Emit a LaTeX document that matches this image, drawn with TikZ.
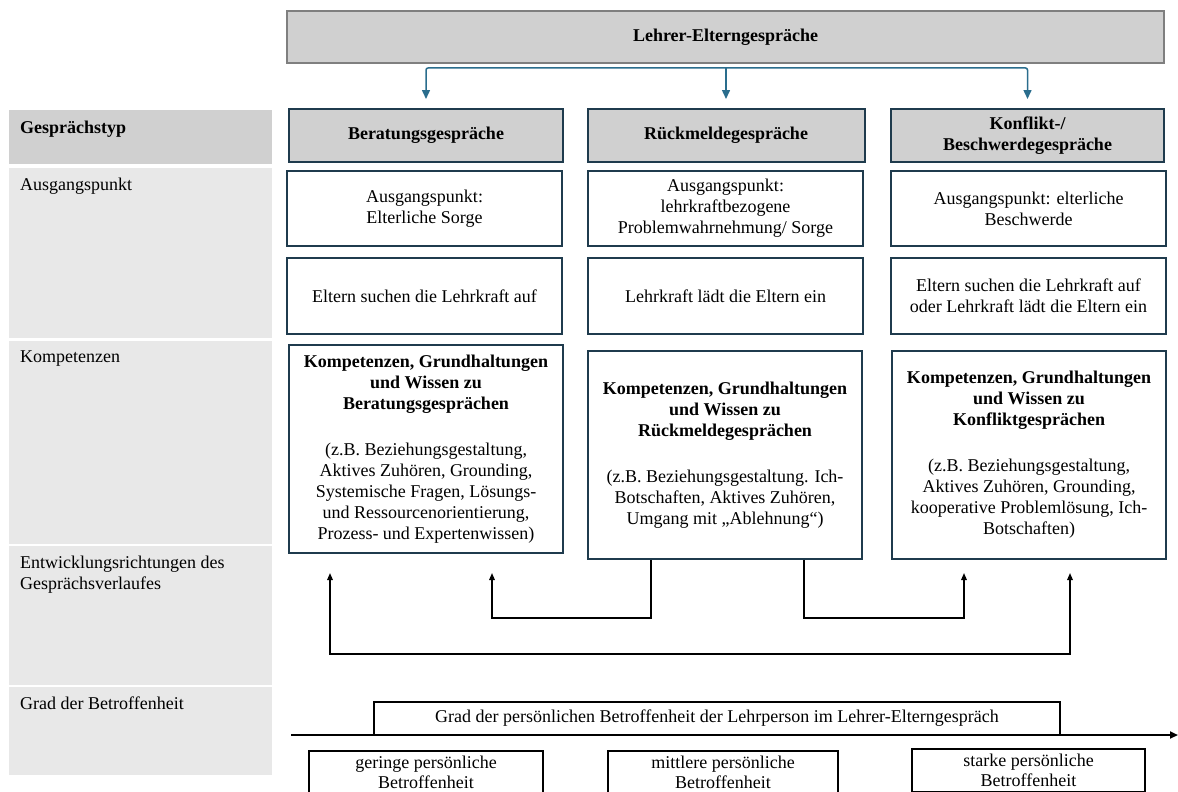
\documentclass[tikz,border=0pt]{standalone}
\usepackage{fontspec}
\setmainfont{Liberation Serif}
\usetikzlibrary{arrows.meta}
\definecolor{hdrgray}{HTML}{D0D0D0}
\definecolor{rowgray}{HTML}{E8E8E8}
\definecolor{topborder}{HTML}{7F7F7F}
\definecolor{navy}{HTML}{1F3B4D}
\definecolor{bluearrow}{HTML}{2A6D8D}
\begin{document}
\begin{tikzpicture}[x=1pt,y=-1pt,
  every node/.style={font=\fontsize{18}{21}\selectfont},
  rowfill/.style={draw=none, fill=#1, inner sep=0pt, minimum width=263pt},
  rowlabel/.style={anchor=base west, inner sep=0pt, align=left},
  boldtxt/.style={font=\fontsize{18}{21}\selectfont\bfseries},
  topbox/.style={draw=topborder, line width=2pt, fill=hdrgray, inner sep=0pt,
    minimum width=877pt, minimum height=52pt, boldtxt},
  hdrbox/.style={draw=navy, line width=2pt, fill=hdrgray, inner sep=0pt,
    minimum height=53pt, align=center, boldtxt},
  cellbox/.style={draw=navy, line width=1.5pt, fill=white, inner sep=0pt,
    minimum width=275pt, align=center},
  axisbox/.style={draw=black, line width=1.5pt, fill=white, inner sep=0pt, align=center},
  lowbox/.style={draw=black, line width=1.5pt, fill=white, inner xsep=0pt,
    inner ysep=5pt, anchor=north, align=center, font=\fontsize{18}{20}\selectfont},
  barrow/.style={draw=bluearrow, line width=1.5pt, rounded corners=2pt,
    -{Triangle[length=9pt,width=8pt]}, shorten >=9pt},
  conn/.style={draw=black, line width=1.5pt},
  tipk/.tip={Triangle[length=7pt,width=5.5pt]}
]
\useasboundingbox (0,0) rectangle (1178,792);

% left column
\node[rowfill=hdrgray, minimum height=54pt] (r1) at (140.5,137) {};
\node[rowfill=rowgray, minimum height=170pt] (r2) at (140.5,253) {};
\node[rowfill=rowgray, minimum height=203pt] (r3) at (140.5,442.5) {};
\node[rowfill=rowgray, minimum height=139pt] (r4) at (140.5,615.5) {};
\node[rowfill=rowgray, minimum height=88pt] (r5) at (140.5,731) {};

\node[rowlabel, boldtxt] (l1) at (20,133) {Gesprächstyp};
\node[rowlabel] (l2) at (20,190) {Ausgangspunkt};
\node[rowlabel] (l3) at (20,362) {Kompetenzen};
\node[rowlabel] (l4) at (20,589) {Entwicklungsrichtungen des\\Gesprächsverlaufes};
\node[rowlabel] (l5) at (20,709) {Grad der Betroffenheit};

% top
\node[topbox] (top) at (725.5,37) {Lehrer-Elterngespräche};

% headers
\node[hdrbox, minimum width=274pt] (h1) at (426,135.5) {Beratungsgespräche};
\node[hdrbox, minimum width=277pt] (h2) at (726,135.5) {Rückmeldegespräche};
\node[hdrbox, minimum width=273pt] (h3) at (1027.5,135.5) {Konflikt-/\\Beschwerdegespräche};

% blue connectors
\coordinate (bus) at (726,68);
\draw[barrow] (bus) -| (h1.north);
\draw[barrow] (bus) -| (h3.north);
\draw[barrow] (bus) -- (h2.north);

% Ausgangspunkt row
\node[cellbox, minimum height=75pt] (a1) at (424.5,208.5) {Ausgangspunkt:\\Elterliche Sorge};
\node[cellbox, minimum height=75pt] (a2) at (725.5,208.5) {Ausgangspunkt:\\lehrkraftbezogene\\Problemwahrnehmung/ Sorge};
\node[cellbox, minimum height=75pt] (a3) at (1028.5,208.5) {Ausgangspunkt: elterliche\\Beschwerde};

\node[cellbox, minimum height=76pt] (b1) at (424.5,296) {Eltern suchen die Lehrkraft auf};
\node[cellbox, minimum height=76pt] (b2) at (725.5,296) {Lehrkraft lädt die Eltern ein};
\node[cellbox, minimum height=76pt] (b3) at (1028.5,296) {Eltern suchen die Lehrkraft auf\\oder Lehrkraft lädt die Eltern ein};

% Kompetenzen
\node[cellbox, minimum width=274pt, minimum height=208pt] (k1) at (426,449)
  {\textbf{Kompetenzen, Grundhaltungen}\\\textbf{und Wissen zu}\\\textbf{Beratungsgesprächen}\\[25pt]
   (z.B. Beziehungsgestaltung,\\Aktives Zuhören, Grounding,\\Systemische Fragen, Lösungs-\\und Ressourcenorientierung,\\Prozess- und Expertenwissen)};
\node[cellbox, minimum width=274pt, minimum height=208pt] (k2) at (725,455)
  {\textbf{Kompetenzen, Grundhaltungen}\\\textbf{und Wissen zu}\\\textbf{Rückmeldegesprächen}\\[25pt]
   (z.B. Beziehungsgestaltung. Ich-\\Botschaften, Aktives Zuhören,\\Umgang mit „Ablehnung“)};
\node[cellbox, minimum width=274pt, minimum height=208pt] (k3) at (1029,455)
  {\textbf{Kompetenzen, Grundhaltungen}\\\textbf{und Wissen zu}\\\textbf{Konfliktgesprächen}\\[25pt]
   (z.B. Beziehungsgestaltung,\\Aktives Zuhören, Grounding,\\kooperative Problemlösung, Ich-\\Botschaften)};

% development connectors
\coordinate (M1) at (651,0);
\coordinate (M2) at (804,0);
\coordinate (S1) at (492,573);
\coordinate (S1b) at (570,618);
\coordinate (S2) at (964,573);
\coordinate (S2b) at (880,618);
\coordinate (L1) at (330,573);
\coordinate (L2) at (1070,573);
\coordinate (Lb) at (700,654);
\draw[conn, -{tipk}] (k2.south -| M1) |- (S1b) -| (S1);
\draw[conn, -{tipk}] (k2.south -| M2) |- (S2b) -| (S2);
\draw[conn, {tipk}-{tipk}] (L1) |- (Lb) -| (L2);

% axis
\node[axisbox, minimum width=686pt, minimum height=33pt] (g) at (717,718.5)
  {Grad der persönlichen Betroffenheit der Lehrperson im Lehrer-Elterngespräch};
\coordinate (ax0) at (291,735);
\coordinate (ax1) at (1178,735);
\draw[line width=2.5pt, -{Triangle[length=8pt,width=7pt]}] (ax0) -- (ax1);

\node[lowbox, minimum width=234pt] (p1) at (426,750) {geringe persönliche\\Betroffenheit};
\node[lowbox, minimum width=230pt] (p2) at (723,750) {mittlere persönliche\\Betroffenheit};
\node[lowbox, minimum width=233pt] (p3) at (1028.5,748) {starke persönliche\\Betroffenheit};
\end{tikzpicture}
\end{document}
